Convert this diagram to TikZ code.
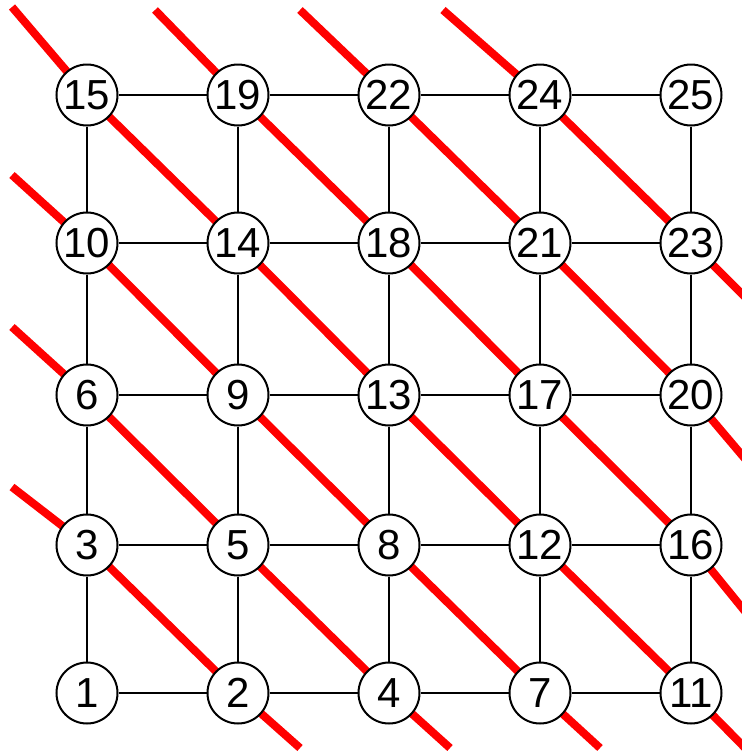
\documentclass[tikz,border=0pt]{standalone}
\usepackage{fontspec}
\setmainfont{Liberation Sans}
\usetikzlibrary{backgrounds}
\begin{document}
\begin{tikzpicture}[x=1pt,y=-1pt,
  vtx/.style={circle,draw=black,line width=2pt,fill=white,minimum size=61pt,inner sep=0pt,
    font=\fontsize{42}{42}\selectfont},
  edge/.style={draw=black,line width=2pt},
  redline/.style={draw=red,line width=8pt,line join=round}]
\useasboundingbox (0,0) rectangle (742,753);
\clip (0,0) rectangle (742,753);
% nodes
\foreach \lab/\x/\y in {15/87/95,19/238/95,22/389/95,24/540/95,25/691/95,
  10/87/243,14/238/243,18/389/243,21/540/243,23/691/243,
  6/87/395,9/238/395,13/389/395,17/540/395,20/691/395,
  3/87/545,5/238/545,8/389/545,12/540/545,16/691/545,
  1/87/693,2/238/693,4/389/693,7/540/693,11/691/693}
  \node[vtx] (n\lab) at (\x,\y) {\lab};
% free ends of the red lines
\coordinate (sA) at (12,487); \coordinate (eA) at (300,748);
\coordinate (sB) at (12,327); \coordinate (eB) at (450,748);
\coordinate (sC) at (12,175); \coordinate (eC) at (600,748);
\coordinate (sD) at (12,7);   \coordinate (eD) at (752,755);
\coordinate (sE) at (155,10); \coordinate (eE) at (752,620);
\coordinate (sF) at (300,10); \coordinate (eF) at (752,467);
\coordinate (sG) at (443,10); \coordinate (eG) at (752,304);
\begin{scope}[on background layer]
  \draw[redline] (sA) -- (n3.center) -- (n2.center) -- (eA);
  \draw[redline] (sB) -- (n6.center) -- (n5.center) -- (n4.center) -- (eB);
  \draw[redline] (sC) -- (n10.center) -- (n9.center) -- (n8.center) -- (n7.center) -- (eC);
  \draw[redline] (sD) -- (n15.center) -- (n14.center) -- (n13.center) -- (n12.center) -- (n11.center) -- (eD);
  \draw[redline] (sE) -- (n19.center) -- (n18.center) -- (n17.center) -- (n16.center) -- (eE);
  \draw[redline] (sF) -- (n22.center) -- (n21.center) -- (n20.center) -- (eF);
  \draw[redline] (sG) -- (n24.center) -- (n23.center) -- (eG);
\end{scope}
% grid edges
\foreach \a/\b in {15/19,19/22,22/24,24/25,10/14,14/18,18/21,21/23,
  6/9,9/13,13/17,17/20,3/5,5/8,8/12,12/16,1/2,2/4,4/7,7/11,
  15/10,10/6,6/3,3/1,19/14,14/9,9/5,5/2,22/18,18/13,13/8,8/4,
  24/21,21/17,17/12,12/7,25/23,23/20,20/16,16/11}
  \draw[edge] (n\a) -- (n\b);
\end{tikzpicture}
\end{document}
